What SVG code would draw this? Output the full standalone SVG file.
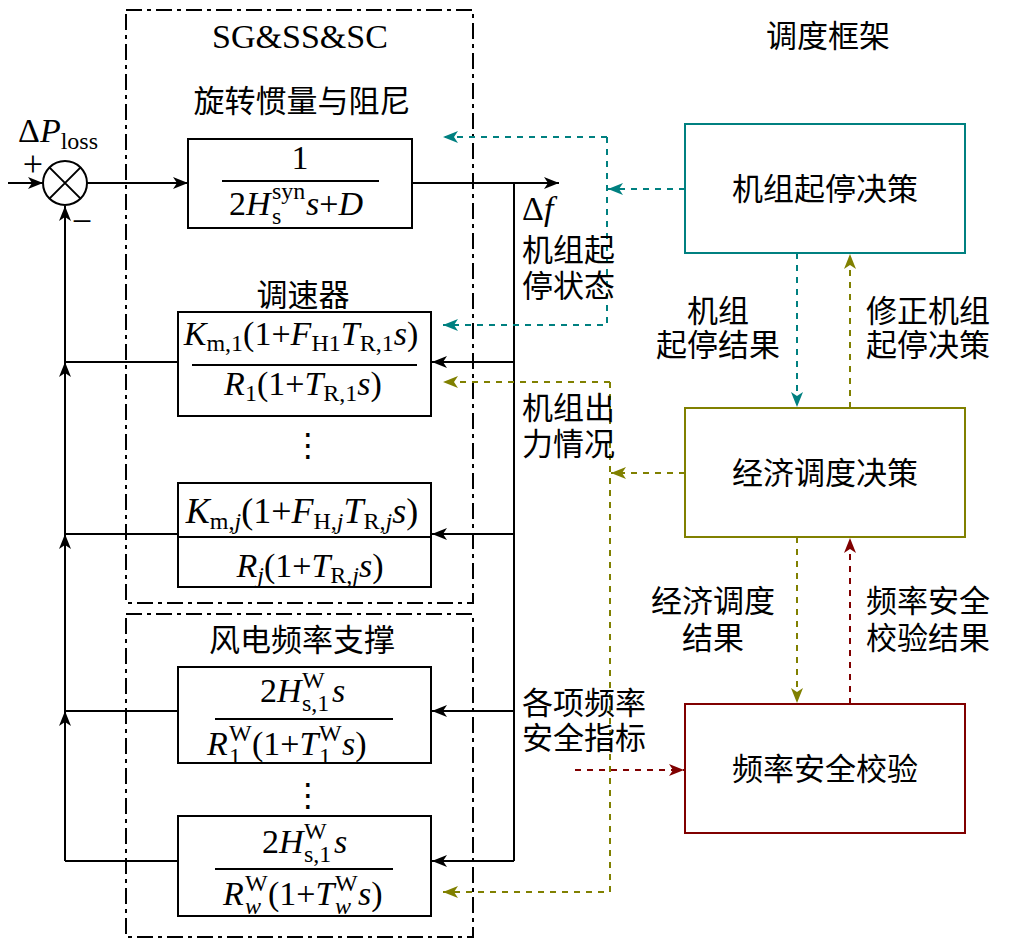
<svg xmlns="http://www.w3.org/2000/svg" width="1015" height="949" viewBox="0 0 1015 949">
<style>
.ln{fill:none;stroke:#000;stroke-width:2}
.bx{fill:none;stroke:#000;stroke-width:2}
.dd{fill:none;stroke:#000;stroke-width:2;stroke-dasharray:16 5 4 5}
.tl{fill:none;stroke:#008080;stroke-width:2;stroke-dasharray:6 6}
.ol{fill:none;stroke:#808000;stroke-width:2;stroke-dasharray:6 6}
.rd{fill:none;stroke:#800000;stroke-width:2;stroke-dasharray:6 6}
.m{font-family:"Liberation Serif","Times New Roman",serif;font-size:34px;fill:#000}
.i{font-style:italic}
.sb{font-size:24px}
.cn{font-family:"Noto Sans CJK SC","Noto Sans",sans-serif;font-size:31px;fill:#000}
.dt{font-family:"DejaVu Sans",sans-serif;font-size:32px;fill:#000}
</style>
<defs>
<marker id="ab" markerUnits="userSpaceOnUse" markerWidth="16" markerHeight="12" refX="15" refY="6" orient="auto"><path d="M0,0 L15,6 L0,12 L4,6 z" fill="#000"/></marker>
<marker id="at" markerUnits="userSpaceOnUse" markerWidth="16" markerHeight="12" refX="15" refY="6" orient="auto"><path d="M0,0 L15,6 L0,12 L4,6 z" fill="#008080"/></marker>
<marker id="ao" markerUnits="userSpaceOnUse" markerWidth="16" markerHeight="12" refX="15" refY="6" orient="auto"><path d="M0,0 L15,6 L0,12 L4,6 z" fill="#808000"/></marker>
<marker id="ar" markerUnits="userSpaceOnUse" markerWidth="16" markerHeight="12" refX="15" refY="6" orient="auto"><path d="M0,0 L15,6 L0,12 L4,6 z" fill="#800000"/></marker>
</defs>
<rect width="1015" height="949" fill="#fff"/>

<g id="frame-sg">
<rect class="dd" x="126" y="10" width="347" height="593"/>
<text class="m" x="300" y="48" text-anchor="middle">SG&amp;SS&amp;SC</text>
<text class="cn" x="302" y="112" text-anchor="middle">旋转惯量与阻尼</text>
<text class="cn" x="303" y="306" text-anchor="middle">调速器</text>
</g>
<g id="frame-wind">
<rect class="dd" x="126" y="614" width="347" height="323"/>
<text class="cn" x="302" y="651" text-anchor="middle">风电频率支撑</text>
</g>
<text class="cn" x="828" y="47" text-anchor="middle">调度框架</text>

<g id="sum">
<circle cx="65" cy="183" r="22" fill="#fff" stroke="#000" stroke-width="2"/>
<path class="ln" d="M49.4,167.4 L80.6,198.6 M80.6,167.4 L49.4,198.6"/>
<text class="m" x="18" y="142">Δ<tspan class="i">P</tspan><tspan class="sb" dy="7">loss</tspan></text>
<text class="m" x="33" y="176" text-anchor="middle" style="font-size:36px">+</text>
<text class="m" x="82" y="233" text-anchor="middle" style="font-size:36px">−</text>
</g>

<g id="inertia">
<rect class="bx" x="188" y="139" width="224" height="89"/>
<line class="ln" x1="222" y1="181" x2="379" y2="181"/>
<text class="m" x="300" y="169" text-anchor="middle">1</text>
<text class="m" x="229" y="215">2<tspan class="i">H</tspan><tspan class="sb" x="272" y="224">s</tspan><tspan class="sb" x="272" y="199">syn</tspan><tspan class="i" x="306" y="215">s</tspan>+<tspan class="i">D</tspan></text>
</g>

<g id="gov1">
<rect class="bx" x="178" y="312" width="253" height="104"/>
<line class="ln" x1="192" y1="365" x2="417" y2="365"/>
<text class="m" x="301" y="345" text-anchor="middle"><tspan class="i">K</tspan><tspan class="sb" dy="6">m,1</tspan><tspan dy="-6">(1+</tspan><tspan class="i">F</tspan><tspan class="sb" dy="6">H1</tspan><tspan class="i" dy="-6">T</tspan><tspan class="sb" dy="6">R,1</tspan><tspan class="i" dy="-6">s</tspan>)</text>
<text class="m" x="303" y="395" text-anchor="middle"><tspan class="i">R</tspan><tspan class="sb" dy="6">1</tspan><tspan dy="-6">(1+</tspan><tspan class="i">T</tspan><tspan class="sb" dy="6">R,1</tspan><tspan class="i" dy="-6">s</tspan>)</text>
</g>
<text class="dt" x="308" y="456" text-anchor="middle">⋮</text>

<g id="govj">
<rect class="bx" x="178" y="483" width="253" height="104"/>
<line class="ln" x1="178" y1="537" x2="431" y2="537"/>
<text class="m" x="302" y="523" text-anchor="middle" style="font-size:36px"><tspan class="i">K</tspan><tspan class="sb" dy="6">m,<tspan class="i">j</tspan></tspan><tspan dy="-6">(1+</tspan><tspan class="i">F</tspan><tspan class="sb" dy="6">H,<tspan class="i">j</tspan></tspan><tspan class="i" dy="-6">T</tspan><tspan class="sb" dy="6">R,<tspan class="i">j</tspan></tspan><tspan class="i" dy="-6">s</tspan>)</text>
<text class="m" x="310" y="577" text-anchor="middle"><tspan class="i">R</tspan><tspan class="sb i" dy="6">j</tspan><tspan dy="-6">(1+</tspan><tspan class="i">T</tspan><tspan class="sb" dy="6">R,<tspan class="i">j</tspan></tspan><tspan class="i" dy="-6">s</tspan>)</text>
</g>

<g id="wind1">
<rect class="bx" x="178" y="667" width="253" height="96"/>
<line class="ln" x1="215" y1="719" x2="393" y2="719"/>
<text class="m" x="260" y="702">2<tspan class="i">H</tspan><tspan class="sb" x="302" y="688">W</tspan><tspan class="sb" x="302" y="711">s,1</tspan><tspan class="i" x="332" y="702">s</tspan></text>
<text class="m" x="207" y="755"><tspan class="i">R</tspan><tspan class="sb" x="229" y="741">W</tspan><tspan class="sb" x="229" y="764">1</tspan><tspan x="252" y="755">(1+</tspan><tspan class="i">T</tspan><tspan class="sb" x="319" y="741">W</tspan><tspan class="sb" x="319" y="764">1</tspan><tspan class="i" x="342" y="755">s</tspan>)</text>
</g>
<text class="dt" x="308" y="806" text-anchor="middle">⋮</text>

<g id="windw">
<rect class="bx" x="178" y="816" width="253" height="100"/>
<line class="ln" x1="215" y1="869" x2="393" y2="869"/>
<text class="m" x="262" y="853">2<tspan class="i">H</tspan><tspan class="sb" x="304" y="839">W</tspan><tspan class="sb" x="304" y="862">s,1</tspan><tspan class="i" x="334" y="853">s</tspan></text>
<text class="m" x="223" y="905"><tspan class="i">R</tspan><tspan class="sb" x="245" y="891">W</tspan><tspan class="sb i" x="245" y="914">w</tspan><tspan x="268" y="905">(1+</tspan><tspan class="i">T</tspan><tspan class="sb" x="335" y="891">W</tspan><tspan class="sb i" x="335" y="914">w</tspan><tspan class="i" x="358" y="905">s</tspan>)</text>
</g>

<g id="unit-commit">
<rect x="685" y="124" width="280" height="129" fill="none" stroke="#008080" stroke-width="2"/>
<text class="cn" x="825" y="200" text-anchor="middle">机组起停决策</text>
</g>
<g id="dispatch">
<rect x="685" y="408" width="280" height="129" fill="none" stroke="#808000" stroke-width="2"/>
<text class="cn" x="825" y="484" text-anchor="middle">经济调度决策</text>
</g>
<g id="freq-check">
<rect x="685" y="704" width="280" height="129" fill="none" stroke="#800000" stroke-width="2"/>
<text class="cn" x="825" y="780" text-anchor="middle">频率安全校验</text>
</g>

<g id="connectors">
<line class="ln" x1="8" y1="183" x2="43" y2="183" marker-end="url(#ab)"/>
<line class="ln" x1="87" y1="183" x2="188" y2="183" marker-end="url(#ab)"/>
<line class="ln" x1="412" y1="183" x2="559" y2="183" marker-end="url(#ab)"/>
<path class="ln" d="M514,183 L514,861"/>
<line class="ln" x1="514" y1="362" x2="432" y2="362" marker-end="url(#ab)"/>
<line class="ln" x1="514" y1="534" x2="432" y2="534" marker-end="url(#ab)"/>
<line class="ln" x1="514" y1="711" x2="432" y2="711" marker-end="url(#ab)"/>
<line class="ln" x1="514" y1="861" x2="432" y2="861" marker-end="url(#ab)"/>
<path class="ln" d="M178,362 L65,362 M178,534 L65,534 M178,711 L65,711 M178,861 L65,861"/>
<line class="ln" x1="65" y1="861" x2="65" y2="711" marker-end="url(#ab)"/>
<line class="ln" x1="65" y1="711" x2="65" y2="534" marker-end="url(#ab)"/>
<line class="ln" x1="65" y1="534" x2="65" y2="362" marker-end="url(#ab)"/>
<line class="ln" x1="65" y1="362" x2="65" y2="206" marker-end="url(#ab)"/>

<line class="tl" x1="685" y1="189" x2="608" y2="189" marker-end="url(#at)"/>
<path class="tl" d="M607,137 L443,137" marker-end="url(#at)"/>
<path class="tl" d="M607,137 L607,325 L443,325" marker-end="url(#at)"/>
<line class="tl" x1="797" y1="253" x2="797" y2="407" marker-end="url(#at)"/>

<line class="ol" x1="685" y1="473" x2="611" y2="473" marker-end="url(#ao)"/>
<path class="ol" d="M610,382 L443,382" marker-end="url(#ao)"/>
<path class="ol" d="M610,382 L610,892 L443,892" marker-end="url(#ao)"/>
<line class="ol" x1="850" y1="408" x2="850" y2="254" marker-end="url(#ao)"/>
<line class="ol" x1="797" y1="537" x2="797" y2="703" marker-end="url(#ao)"/>

<line class="rd" x1="850" y1="704" x2="850" y2="538" marker-end="url(#ar)"/>
<line class="rd" x1="575" y1="770" x2="684" y2="770" marker-end="url(#ar)"/>
</g>

<g id="labels">
<text class="m" x="522" y="220">Δ<tspan class="i">f</tspan></text>
<text class="cn" x="522" y="261">机组起</text>
<text class="cn" x="522" y="297">停状态</text>
<text class="cn" x="522" y="419">机组出</text>
<text class="cn" x="522" y="455">力情况</text>
<text class="cn" x="522" y="714">各项频率</text>
<text class="cn" x="522" y="749">安全指标</text>
<text class="cn" x="718" y="322" text-anchor="middle">机组</text>
<text class="cn" x="718" y="356" text-anchor="middle">起停结果</text>
<text class="cn" x="928" y="322" text-anchor="middle">修正机组</text>
<text class="cn" x="928" y="356" text-anchor="middle">起停决策</text>
<text class="cn" x="713" y="612" text-anchor="middle">经济调度</text>
<text class="cn" x="713" y="649" text-anchor="middle">结果</text>
<text class="cn" x="928" y="612" text-anchor="middle">频率安全</text>
<text class="cn" x="928" y="649" text-anchor="middle">校验结果</text>
</g>
</svg>
